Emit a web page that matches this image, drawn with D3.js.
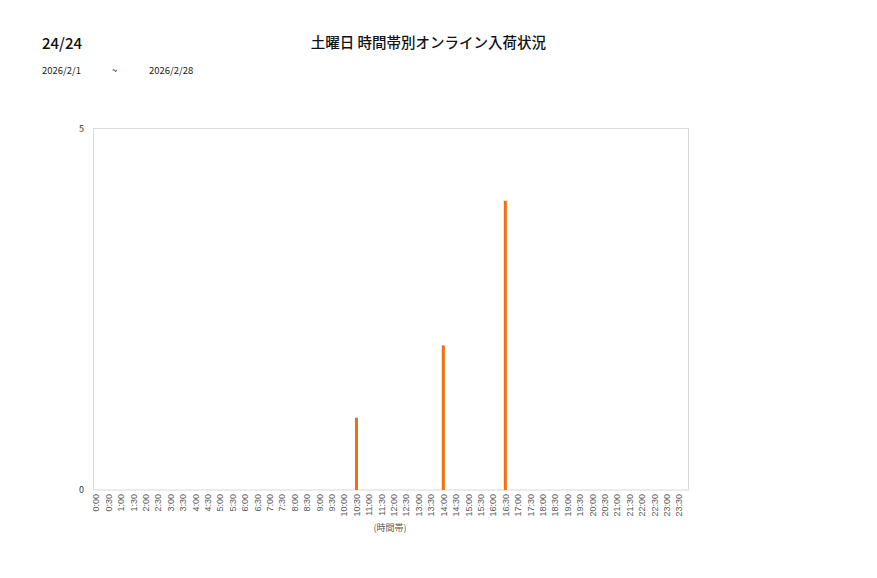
<!DOCTYPE html>
<html>
<head>
    <meta charset="UTF-8" />
    <script src="https://d3js.org/d3.v7.min.js"></script>
    <style>
        body { margin: 0; background: white; font-family: "Noto Sans CJK JP", "Noto Sans", sans-serif; }
        .frame { stroke: #d9d9d9; stroke-width: 1px; fill: none; }
        .tick text { fill: #595959; font-size: 9px; }
    </style>
</head>
<body>
    <svg id="chart" width="877" height="578"></svg>
    <script>
        // data
        const times = [];
        for (let h = 0; h < 24; h++) { times.push(h + ":00"); times.push(h + ":30"); }
        const counts = {"10:30": 1, "14:00": 2, "16:30": 4};
        const yTicks = [0, 5];
        const pageNo = "24/24";
        const title = "土曜日 時間帯別オンライン入荷状況";
        const dateFrom = "2026/2/1";
        const dateTo = "2026/2/28";

        const svg = d3.select("#chart");
        const plot = { left: 93.5, right: 688.5, top: 128.5, bottom: 490 };

        const x = d3.scalePoint().domain(times).range([96, 679]);
        const y = d3.scaleLinear().domain([0, 5]).range([plot.bottom, plot.top]);

        // headings
        svg.append("text").attr("x", 42).attr("y", 49)
            .style("font-size", "15px").style("font-weight", "500").style("fill", "#111")
            .text(pageNo);
        svg.append("text").attr("x", 428.5).attr("y", 48).attr("text-anchor", "middle")
            .style("font-size", "14.5px").style("font-weight", "500").style("fill", "#111")
            .text(title);
        svg.append("text").attr("x", 42).attr("y", 74).style("font-size", "9.5px").style("fill", "#222").text(dateFrom);
        svg.append("text").attr("x", 112).attr("y", 74).style("font-size", "9.5px").style("fill", "#222").text("~");
        svg.append("text").attr("x", 149).attr("y", 74).style("font-size", "9.5px").style("fill", "#222").text(dateTo);

        // plot frame
        svg.append("rect").attr("class", "frame")
            .attr("x", plot.left).attr("y", plot.top)
            .attr("width", plot.right - plot.left).attr("height", plot.bottom - plot.top);

        // y labels
        svg.selectAll("text.ylab").data(yTicks).join("text")
            .attr("class", "ylab")
            .attr("x", 84).attr("y", d => y(d) + 3)
            .attr("text-anchor", "end")
            .style("font-size", "9px").style("fill", "#333")
            .text(d => d);

        // bars
        svg.selectAll("rect.bar").data(times.filter(t => counts[t] > 0)).join("rect")
            .attr("class", "bar")
            .attr("x", d => x(d) - 1.5)
            .attr("width", 3)
            .attr("y", d => y(counts[d]))
            .attr("height", d => plot.bottom - y(counts[d]))
            .style("fill", "#f07010");

        // x axis labels
        const xAxis = d3.axisBottom(x).tickSize(0).tickPadding(0);
        const gx = svg.append("g").attr("transform", "translate(0," + plot.bottom + ")").call(xAxis);
        gx.select(".domain").remove();
        gx.selectAll(".tick text")
            .attr("transform", "rotate(-90)")
            .attr("x", -4).attr("y", 0).attr("dy", "0.32em")
            .attr("text-anchor", "end");

        svg.append("text").attr("x", 390).attr("y", 531).attr("text-anchor", "middle")
            .style("font-size", "9px").style("fill", "#595959")
            .text("(時間帯)");
    </script>
</body>
</html>
